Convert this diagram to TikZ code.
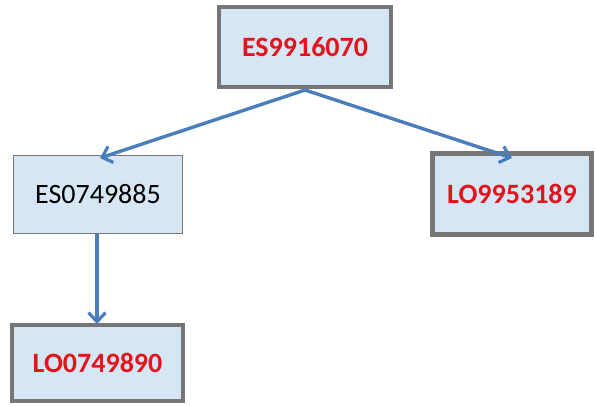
\documentclass[tikz,border=0pt]{standalone}
\usepackage{fontspec}
\setmainfont{Carlito}
\usetikzlibrary{arrows.meta}
\definecolor{boxfill}{HTML}{D7E6F4}
\definecolor{boxline}{HTML}{767676}
\definecolor{idred}{HTML}{E2141C}
\definecolor{linkblue}{HTML}{4A7EBB}
\tikzset{
  box/.style={draw=boxline, fill=boxfill, rectangle, inner sep=0pt,
    font=\fontsize{28}{30}\selectfont},
  keybox/.style={box, line width=4.5pt, text=idred, font=\fontsize{28}{30}\selectfont\bfseries},
  plainbox/.style={box, line width=1pt, text=black},
  link/.style={draw=linkblue, line width=3.4pt,
    -{Straight Barb[length=9pt,width=17pt,line width=3.2pt]}}
}
\begin{document}
\begin{tikzpicture}[x=1pt,y=-1pt]
  \useasboundingbox (0,0) rectangle (595,405);
  \node[keybox, minimum width=172pt, minimum height=80pt] (top) at (305,47) {ES9916070};
  \node[plainbox, minimum width=169pt, minimum height=78pt] (es) at (98,194) {ES0749885};
  \node[keybox, minimum width=159pt, minimum height=81pt] (lo9) at (512,194) {LO9953189};
  \node[keybox, minimum width=171pt, minimum height=76pt] (lo0) at (97.5,363) {LO0749890};
  \coordinate (split) at (305,90);
  \coordinate (esin) at (100,158);
  \coordinate (lo9in) at (512,158);
  \coordinate (esout) at (97,234);
  \coordinate (lo0in) at (97,324);
  \draw[link] (split) -- (esin);
  \draw[link] (split) -- (lo9in);
  \draw[link] (esout) -- (lo0in);
\end{tikzpicture}
\end{document}
